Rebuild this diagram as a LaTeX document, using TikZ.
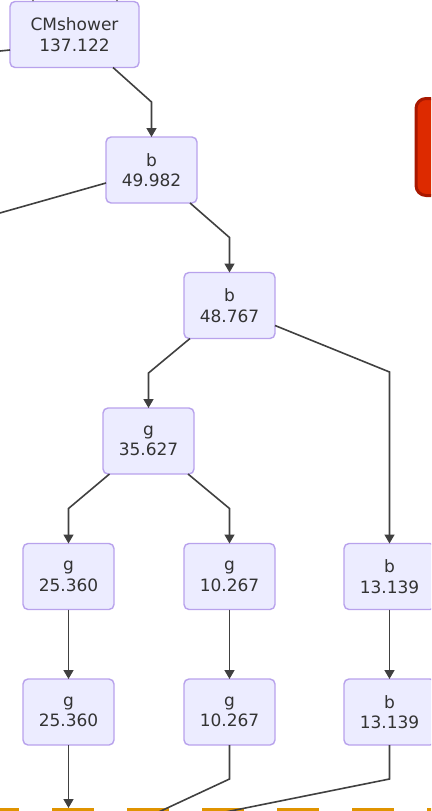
\documentclass[tikz,border=0pt]{standalone}
\usepackage{fontspec}
\newfontfamily\flowfont{DejaVu Sans}
\usetikzlibrary{positioning,arrows.meta}
\definecolor{nodefill}{HTML}{ECECFF}
\definecolor{nodeline}{HTML}{B8A2EC}
\definecolor{edgegray}{HTML}{404040}
\definecolor{alertred}{HTML}{DD2A00}
\definecolor{alertdark}{HTML}{A81800}
\definecolor{sgorange}{HTML}{E09400}

\begin{document}
\begin{tikzpicture}[
    x=1pt, y=1pt,
    node distance=69.5pt and 69pt,
    particle/.style={draw=nodeline, fill=nodefill, line width=1.4pt, rounded corners=5pt,
                     minimum width=91pt, minimum height=66pt, inner sep=0pt, outer sep=0pt,
                     align=center, text=black!80, font=\flowfont\fontsize{17}{20.5}\selectfont},
    alertbox/.style={draw=alertdark, fill=alertred, line width=3pt, rounded corners=10pt,
                     minimum width=60pt, minimum height=97pt},
    arrow/.style={-{Triangle[length=9pt,width=10pt]}, draw=edgegray, line width=1.6pt},
    link/.style={draw=edgegray, line width=1.6pt},
    sgborder/.style={draw=sgorange, line width=4pt, dash pattern=on 42pt off 33pt},
  ]
    \useasboundingbox (0,0) rectangle (431,-811);
    \clip (0,0) rectangle (431,-811);

    % Shower tree (top to bottom)
    \node[particle, minimum width=129pt] (shower) at (74.5,-34.5) {CMshower\\137.122};
    \node[particle, below=of shower, xshift=77pt] (b1) {b\\49.982};
    \node[particle, below=of b1, xshift=78pt] (b2) {b\\48.767};
    \node[particle, below=of b2, xshift=-81pt] (g1) {g\\35.627};
    \node[particle, below=of g1, xshift=-80pt] (g2) {g\\25.360};
    \node[particle, below=of g1, xshift=81pt] (g3) {g\\10.267};
    \node[particle, right=of g3] (b3) {b\\13.139};
    \node[particle, below=of g2] (g4) {g\\25.360};
    \node[particle, below=of g3] (g5) {g\\10.267};
    \node[particle, below=of b3] (b4) {b\\13.139};

    % Box cut by the right margin
    \node[alertbox] (alert) at (446,-147) {};

    % Subgraph border at the bottom
    \draw[sgborder] (-23,-809.5) -- (460,-809.5);

    % Splittings
    \draw[arrow] ([xshift=38.5pt]shower.south) -- ([yshift=35pt]b1.north) -- (b1.north);
    \draw[arrow] ([xshift=38.5pt]b1.south) -- ([yshift=35pt]b2.north) -- (b2.north);
    \draw[arrow] ([xshift=-39.5pt]b2.south) -- ([yshift=35pt]g1.north) -- (g1.north);
    \draw[arrow] ([yshift=-20pt]b2.east) -- ([yshift=171.5pt]b3.north) -- (b3.north);
    \draw[arrow] ([xshift=-39pt]g1.south) -- ([yshift=35pt]g2.north) -- (g2.north);
    \draw[arrow] ([xshift=39.5pt]g1.south) -- ([yshift=35pt]g3.north) -- (g3.north);
    \draw[arrow] (g2) -- (g4);
    \draw[arrow] (g3) -- (g5);
    \draw[arrow] (b3) -- (b4);

    % Edges that leave the picture
    \coordinate (inA) at (33,20);
    \coordinate (inB) at (117,20);
    \coordinate (outL1) at (-20,-53);
    \coordinate (outL2) at (-20,-218.6);
    \coordinate (sgIn) at (69.5,-808);
    \coordinate (outC) at (120,-830);
    \coordinate (outD) at (136,-830);
    \draw[arrow] (inA) -- (inA |- shower.north);
    \draw[arrow] (inB) -- (inB |- shower.north);
    \draw[link] ([yshift=-15.5pt]shower.west) -- (outL1);
    \draw[link] ([yshift=-13pt]b1.west) -- (outL2);
    \draw[arrow] (g4) -- (g4 |- sgIn);
    \draw[link] (g5.south) -- ([yshift=-34pt]g5.south) -- (outC);
    \draw[link] (b4.south) -- ([yshift=-34pt]b4.south) -- (outD);
\end{tikzpicture}
\end{document}
